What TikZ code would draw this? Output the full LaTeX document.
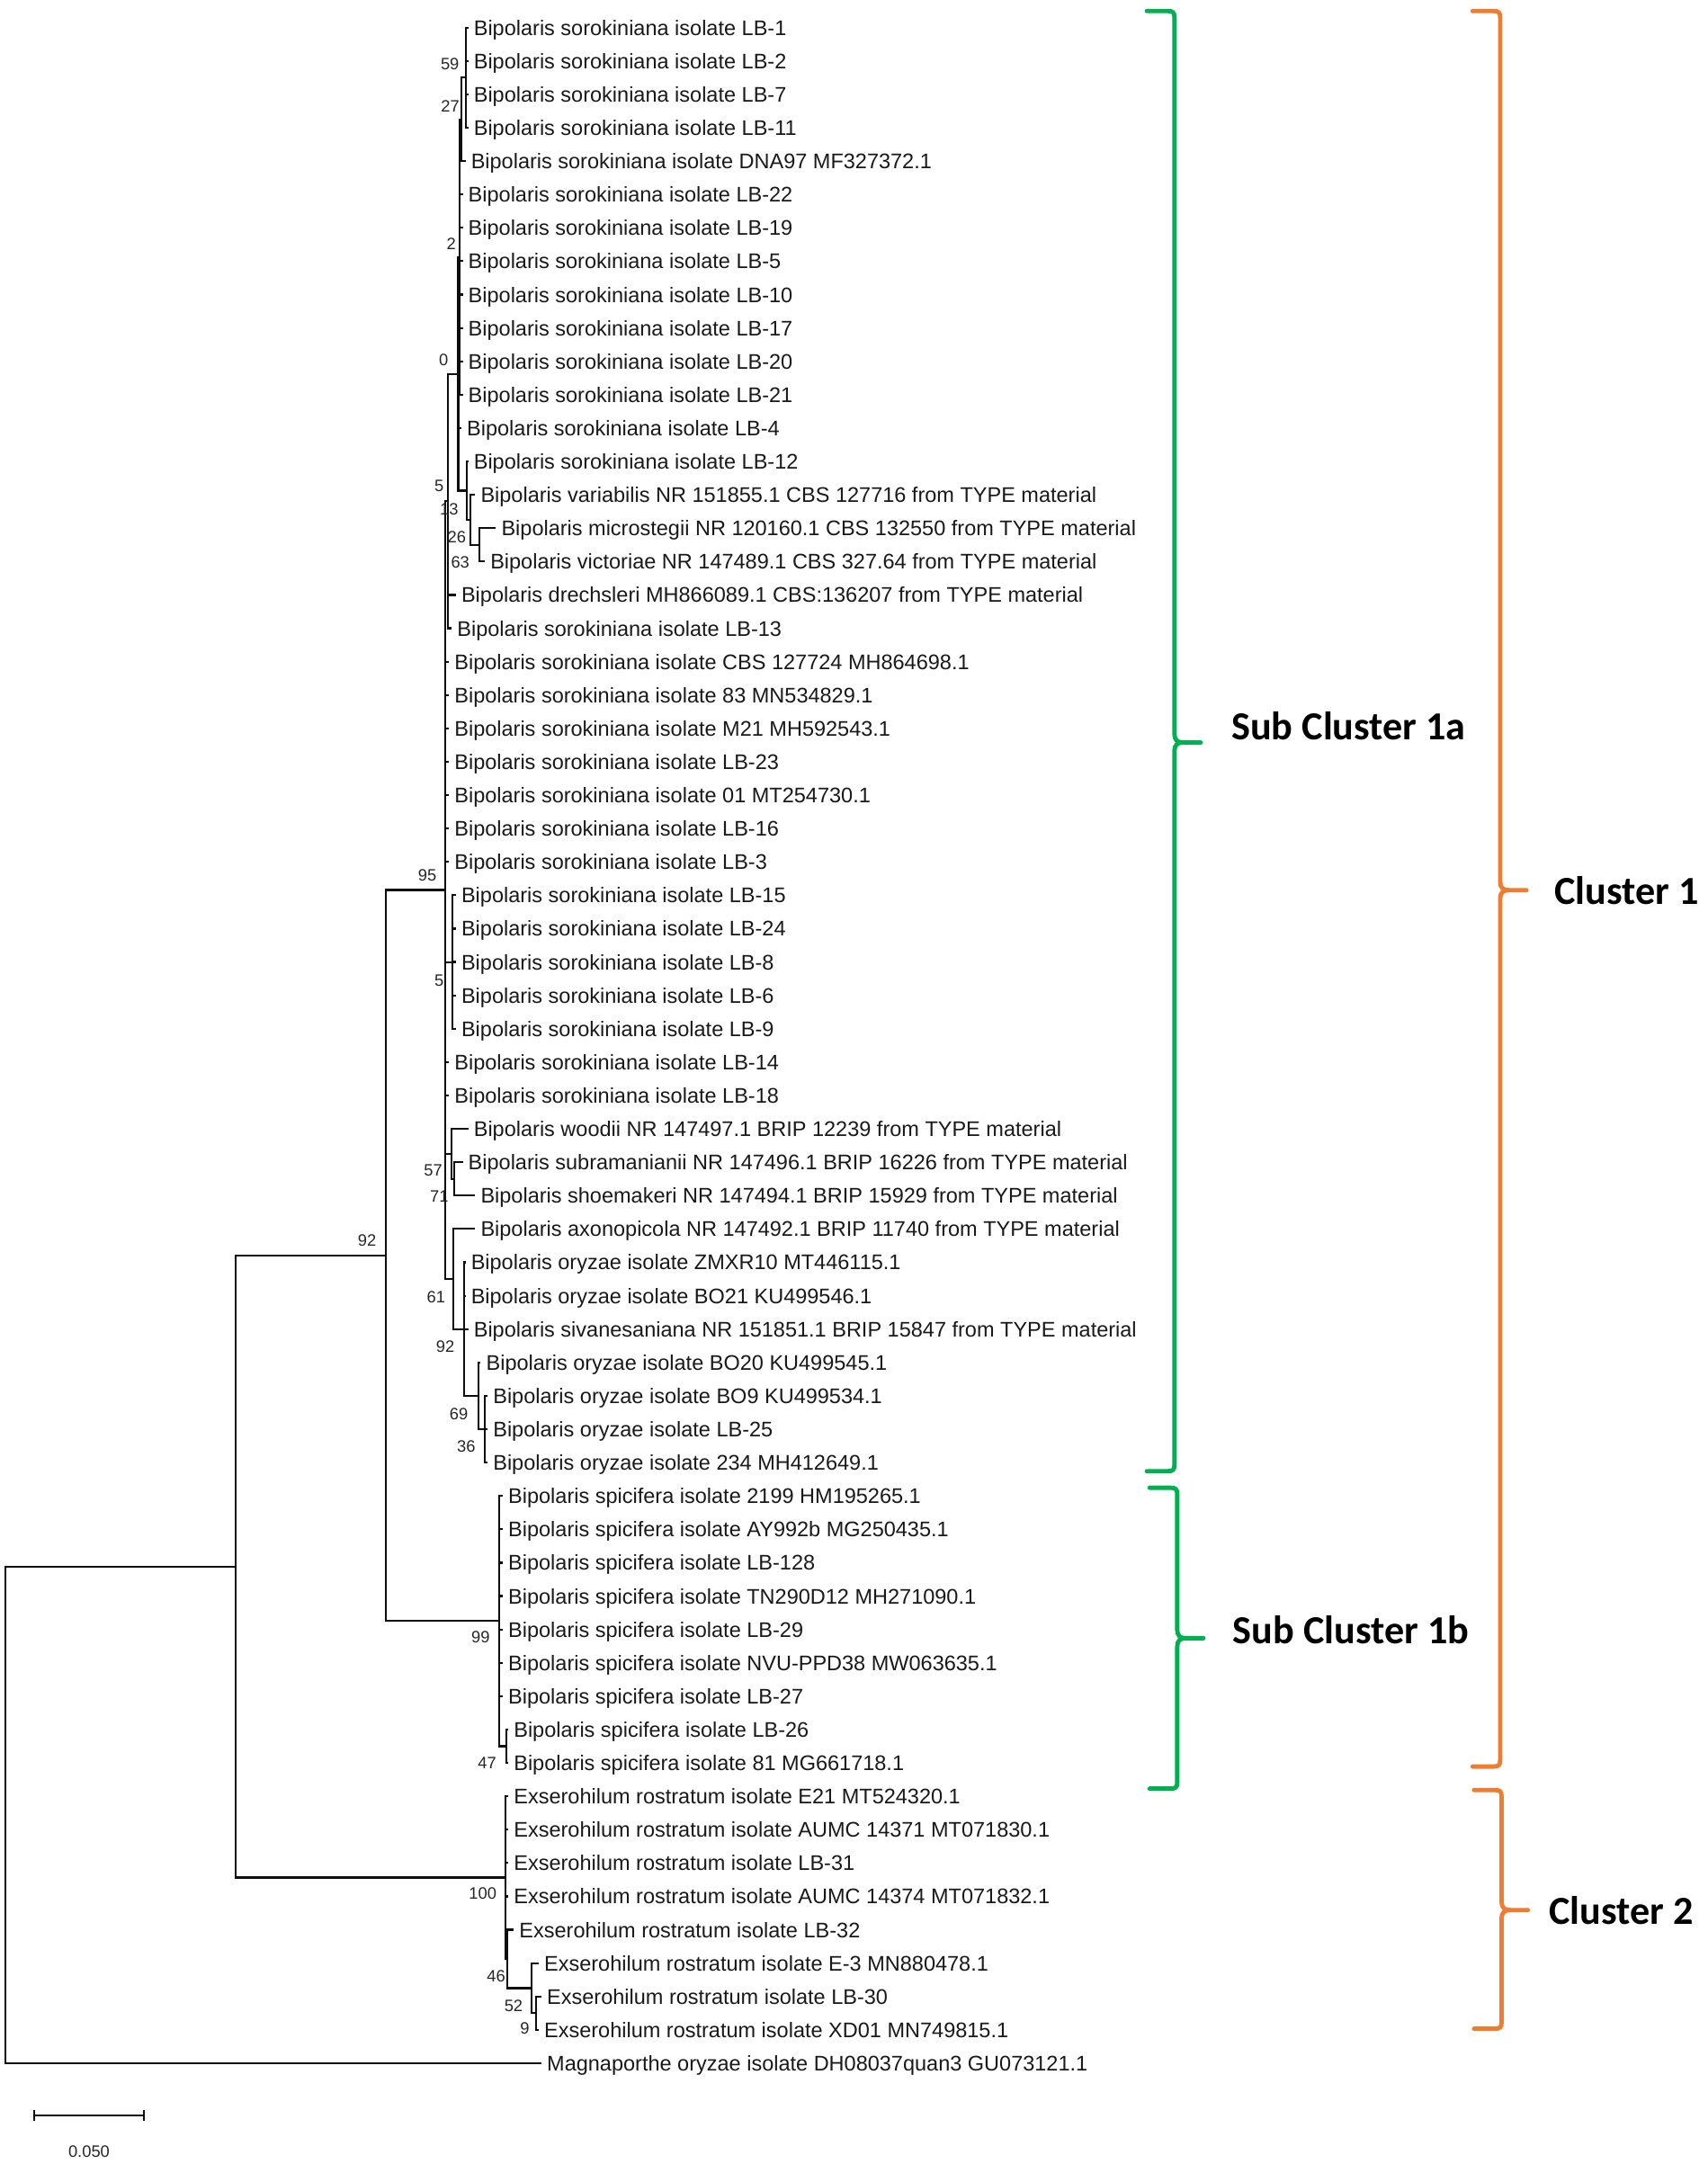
\documentclass[tikz,border=0pt]{standalone}
\usepackage{fontspec}
\setmainfont{Liberation Sans}
\newfontfamily\clfont{Carlito}
\definecolor{clgreen}{HTML}{00B050}
\definecolor{clorange}{HTML}{ED7D31}
\newcommand\tvert[3]{\draw[br] (#1 |- #2) -- (#1 |- #3);}
\newcommand\thor[2]{\draw[br] (#1 |- #2) -- (#2);}
\newcommand\cbrace[5]{%
  \draw[#1] (#2-20,#3) -- (#2-5,#3) .. controls (#2-1,#3) and (#2,#3+1) .. (#2,#3+5)
     -- (#2,#4-6) .. controls (#2,#4-2) and (#2+2,#4) .. (#2+6,#4) -- (#2+19,#4);
  \draw[#1] (#2+6,#4) .. controls (#2+2,#4) and (#2,#4+2) .. (#2,#4+6)
     -- (#2,#5-5) .. controls (#2,#5-1) and (#2-1,#5) .. (#2-5,#5) -- (#2-20,#5);}
\begin{document}
\begin{tikzpicture}[x=0.02cm,y=-0.02cm,
  br/.style={line width=0.8pt, line cap=rect, black!95},
  tip/.style={anchor=west, inner xsep=2.5pt, inner ysep=0pt, text height=6.3pt, text depth=0pt, font=\fontsize{8.72}{10}\selectfont, text=black!90},
  bs/.style={font=\fontsize{6.8}{7.5}\selectfont, inner sep=0pt, text=black!85},
  gbr/.style={line width=1.8pt, draw=clgreen, line cap=round},
  obr/.style={line width=1.8pt, draw=clorange, line cap=round},
  cl/.style={anchor=west, inner sep=0pt, text height=10.5pt, text depth=0pt, font=\clfont\bfseries\fontsize{16.4}{18}\selectfont}]
\useasboundingbox (0,0) rectangle (1237,1568);

% tips
\foreach \i/\lx/\txt in {
1/343/Bipolaris sorokiniana isolate LB-1,
2/343/Bipolaris sorokiniana isolate LB-2,
3/343/Bipolaris sorokiniana isolate LB-7,
4/343/Bipolaris sorokiniana isolate LB-11,
5/341/Bipolaris sorokiniana isolate DNA97 MF327372.1,
6/339/Bipolaris sorokiniana isolate LB-22,
7/339/Bipolaris sorokiniana isolate LB-19,
8/339/Bipolaris sorokiniana isolate LB-5,
9/339/Bipolaris sorokiniana isolate LB-10,
10/339/Bipolaris sorokiniana isolate LB-17,
11/339/Bipolaris sorokiniana isolate LB-20,
12/339/Bipolaris sorokiniana isolate LB-21,
13/338/Bipolaris sorokiniana isolate LB-4,
14/343/Bipolaris sorokiniana isolate LB-12,
15/348/Bipolaris variabilis NR 151855.1 CBS 127716 from TYPE material,
16/363/Bipolaris microstegii NR 120160.1 CBS 132550 from TYPE material,
17/355/Bipolaris victoriae NR 147489.1 CBS 327.64 from TYPE material,
18/334/Bipolaris drechsleri MH866089.1 CBS:136207 from TYPE material,
19/331/Bipolaris sorokiniana isolate LB-13,
20/329/Bipolaris sorokiniana isolate CBS 127724 MH864698.1,
21/329/Bipolaris sorokiniana isolate 83 MN534829.1,
22/329/Bipolaris sorokiniana isolate M21 MH592543.1,
23/329/Bipolaris sorokiniana isolate LB-23,
24/329/Bipolaris sorokiniana isolate 01 MT254730.1,
25/329/Bipolaris sorokiniana isolate LB-16,
26/329/Bipolaris sorokiniana isolate LB-3,
27/334/Bipolaris sorokiniana isolate LB-15,
28/334/Bipolaris sorokiniana isolate LB-24,
29/334/Bipolaris sorokiniana isolate LB-8,
30/334/Bipolaris sorokiniana isolate LB-6,
31/334/Bipolaris sorokiniana isolate LB-9,
32/329/Bipolaris sorokiniana isolate LB-14,
33/329/Bipolaris sorokiniana isolate LB-18,
34/343/Bipolaris woodii NR 147497.1 BRIP 12239 from TYPE material,
35/339/Bipolaris subramanianii NR 147496.1 BRIP 16226 from TYPE material,
36/348/Bipolaris shoemakeri NR 147494.1 BRIP 15929 from TYPE material,
37/348/Bipolaris axonopicola NR 147492.1 BRIP 11740 from TYPE material,
38/341/Bipolaris oryzae isolate ZMXR10 MT446115.1,
39/341/Bipolaris oryzae isolate BO21 KU499546.1,
40/343/Bipolaris sivanesaniana NR 151851.1 BRIP 15847 from TYPE material,
41/352/Bipolaris oryzae isolate BO20 KU499545.1,
42/357/Bipolaris oryzae isolate BO9 KU499534.1,
43/357/Bipolaris oryzae isolate LB-25,
44/357/Bipolaris oryzae isolate 234 MH412649.1,
45/368/Bipolaris spicifera isolate 2199 HM195265.1,
46/368/Bipolaris spicifera isolate AY992b MG250435.1,
47/368/Bipolaris spicifera isolate LB-128,
48/368/Bipolaris spicifera isolate TN290D12 MH271090.1,
49/368/Bipolaris spicifera isolate LB-29,
50/368/Bipolaris spicifera isolate NVU-PPD38 MW063635.1,
51/368/Bipolaris spicifera isolate LB-27,
52/372/Bipolaris spicifera isolate LB-26,
53/372/Bipolaris spicifera isolate 81 MG661718.1,
54/372/Exserohilum rostratum isolate E21 MT524320.1,
55/372/Exserohilum rostratum isolate AUMC 14371 MT071830.1,
56/372/Exserohilum rostratum isolate LB-31,
57/372/Exserohilum rostratum isolate AUMC 14374 MT071832.1,
58/376/Exserohilum rostratum isolate LB-32,
59/394/Exserohilum rostratum isolate E-3 MN880478.1,
60/396/Exserohilum rostratum isolate LB-30,
61/394/Exserohilum rostratum isolate XD01 MN749815.1,
62/396/Magnaporthe oryzae isolate DH08037quan3 GU073121.1}
  \node[tip] (t\i) at (\lx-4.4,{20+(\i-1)*24.18}) {\txt};

% internal nodes
\coordinate (n59) at (337.4,56.25);
\coordinate (n27) at (334.1,86.5);
\coordinate (n2) at (333.0,186.25);
\coordinate (nA) at (347.2,394.8);
\coordinate (nB) at (341.1,376.65);
\coordinate (nC) at (338.3,355.5);
\coordinate (n0) at (332.0,270.9);
\coordinate (n5a) at (324.8,363.05);
\coordinate (n5b) at (328.0,697.05);
\coordinate (n71) at (329.3,854.2);
\coordinate (n57) at (327.0,836.05);
\coordinate (n36) at (351.5,1035.55);
\coordinate (n69) at (346.5,1011.4);
\coordinate (n92b) at (336.3,963.05);
\coordinate (n61) at (328.7,926.8);
\coordinate (n95) at (322.6,644.9);
\coordinate (n47) at (367.1,1265.3);
\coordinate (n99) at (361.7,1174.6);
\coordinate (nT) at (279.6,909.75);
\coordinate (n9) at (388.2,1458.7);
\coordinate (n52) at (385.0,1440.55);
\coordinate (n46) at (367.5,1419.4);
\coordinate (n100) at (366.5,1360.45);
\coordinate (nR1) at (171.0,1135.1);
\coordinate (root) at (3.7,1315.0);

% branches
\tvert{n59}{t1}{t4} \foreach \i in {1,...,4}{\thor{n59}{t\i}}
\tvert{n27}{n59}{t5} \thor{n27}{n59} \thor{n27}{t5}
\tvert{n2}{n27}{t12} \thor{n2}{n27} \foreach \i in {6,...,12}{\thor{n2}{t\i}}
\tvert{nA}{t16}{t17} \thor{nA}{t16} \thor{nA}{t17}
\tvert{nB}{t15}{nA} \thor{nB}{t15} \thor{nB}{nA}
\tvert{nC}{t14}{nB} \thor{nC}{t14} \thor{nC}{nB}
\tvert{n0}{n2}{nC} \thor{n0}{n2} \thor{n0}{t13} \thor{n0}{nC}
\tvert{n5a}{n0}{t19} \thor{n5a}{n0} \thor{n5a}{t18} \thor{n5a}{t19}
\tvert{n5b}{t27}{t31} \foreach \i in {27,...,31}{\thor{n5b}{t\i}}
\tvert{n71}{t35}{t36} \thor{n71}{t35} \thor{n71}{t36}
\tvert{n57}{t34}{n71} \thor{n57}{t34} \thor{n57}{n71}
\tvert{n36}{t42}{t44} \foreach \i in {42,43,44}{\thor{n36}{t\i}}
\tvert{n69}{t41}{n36} \thor{n69}{t41} \thor{n69}{n36}
\tvert{n92b}{t38}{n69} \foreach \i in {38,39,40}{\thor{n92b}{t\i}} \thor{n92b}{n69}
\tvert{n61}{t37}{n92b} \thor{n61}{t37} \thor{n61}{n92b}
\tvert{n95}{n5a}{n61} \thor{n95}{n5a} \foreach \i in {20,...,26,32,33}{\thor{n95}{t\i}}
\thor{n95}{n5b} \thor{n95}{n57} \thor{n95}{n61}
\tvert{n47}{t52}{t53} \thor{n47}{t52} \thor{n47}{t53}
\tvert{n99}{t45}{n47} \foreach \i in {45,...,51}{\thor{n99}{t\i}} \thor{n99}{n47}
\tvert{nT}{n95}{n99} \thor{nT}{n95} \thor{nT}{n99}
\tvert{n9}{t60}{t61} \thor{n9}{t60} \thor{n9}{t61}
\tvert{n52}{t59}{n9} \thor{n52}{t59} \thor{n52}{n9}
\tvert{n46}{t58}{n52} \thor{n46}{t58} \thor{n46}{n52}
\tvert{n100}{t54}{n46} \foreach \i in {54,...,57}{\thor{n100}{t\i}} \thor{n100}{n46}
\tvert{nR1}{nT}{n100} \thor{nR1}{nT} \thor{nR1}{n100}
\tvert{root}{nR1}{t62} \thor{root}{nR1} \thor{root}{t62}

% bootstrap values
\foreach \v/\bx/\by [count=\k] in {59/326/46.7, 27/326.3/77.1, 2/327/177, 0/321.5/260.7,
  5/318.2/352.4, 13/325.4/368.9, 26/330.9/389.5, 63/333.5/407.3, 95/309.6/634,
  5/318.2/710.4, 57/313.9/848.3, 71/318.2/866.8, 92/266/899, 61/316/939.6,
  92/322.6/975.4, 69/332.4/1024.3, 36/337.8/1048.2, 99/348.2/1186.1,
  47/353/1277.4, 100/349.8/1371.9, 46/359.5/1431.6, 52/372.1/1453.4, 9/380.2/1469.6}
  \node[bs] (b\k) at (\bx,\by) {\v};

% scale bar
\coordinate (sb1) at (24.5,1533);
\coordinate (sb2) at (104.3,1533);
\draw[br, line cap=butt] (sb1) -- (sb2);
\draw[br, line cap=butt] ([yshift=-0.08cm]sb1) -- ([yshift=0.08cm]sb1);
\draw[br, line cap=butt] ([yshift=-0.08cm]sb2) -- ([yshift=0.08cm]sb2);
\node[bs] (sbl) at (64.5,1558.7) {0.050};

% cluster brackets
\cbrace{gbr}{851}{8}{538}{1066}
\cbrace{gbr}{853}{1078}{1187}{1296}
\cbrace{obr}{1087}{8}{645}{1280}
\cbrace{obr}{1088}{1297}{1384}{1470}
\node[cl] (c1a) at (892,527) {Sub Cluster 1a};
\node[cl] (c1b) at (893,1182) {Sub Cluster 1b};
\node[cl] (c1) at (1126,646) {Cluster 1};
\node[cl] (c2) at (1122,1385) {Cluster 2};
\end{tikzpicture}
\end{document}
